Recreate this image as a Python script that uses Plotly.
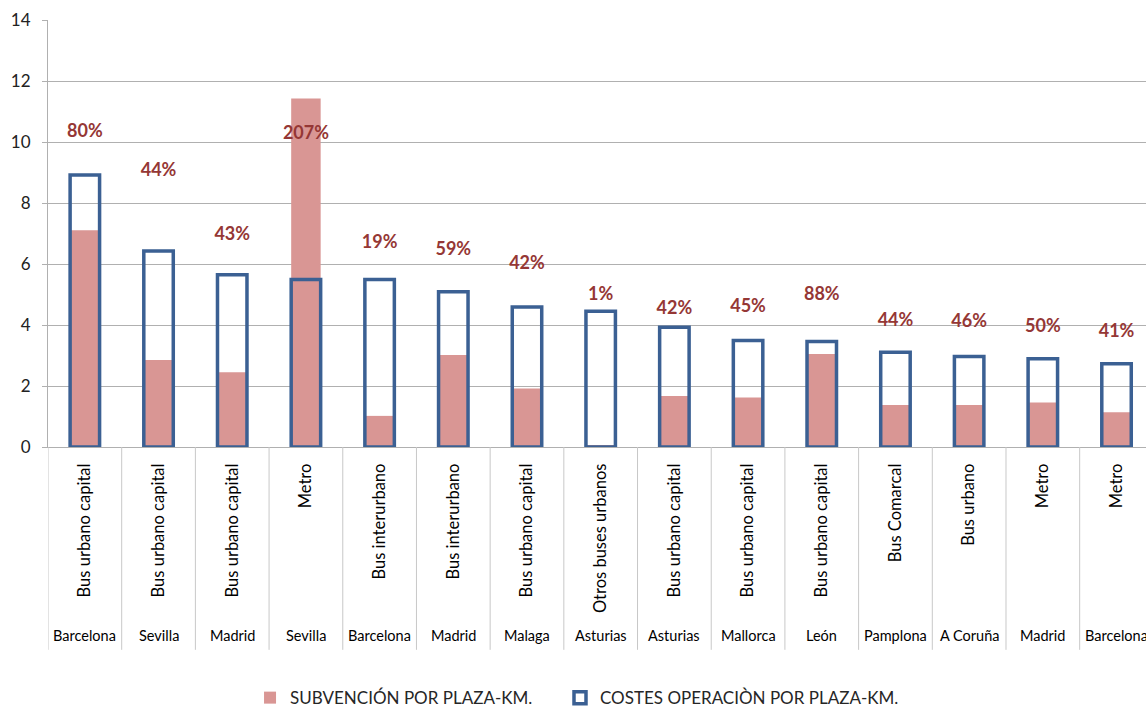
import plotly.graph_objects as go

types = ["Bus urbano capital", "Bus urbano capital", "Bus urbano capital", "Metro",
         "Bus interurbano", "Bus interurbano", "Bus urbano capital", "Otros buses urbanos",
         "Bus urbano capital", "Bus urbano capital", "Bus urbano capital", "Bus Comarcal",
         "Bus urbano", "Metro", "Metro"]
cities = ["Barcelona", "Sevilla", "Madrid", "Sevilla", "Barcelona", "Madrid", "Malaga",
          "Asturias", "Asturias", "Mallorca", "León", "Pamplona", "A Coruña", "Madrid", "Barcelona"]
subvencion = [7.11, 2.85, 2.45, 11.43, 1.02, 3.02, 1.92, 0.04, 1.67, 1.62, 3.05, 1.38, 1.38, 1.46, 1.14]
costes = [8.92, 6.43, 5.65, 5.49, 5.49, 5.09, 4.59, 4.45, 3.93, 3.49, 3.46, 3.11, 2.97, 2.89, 2.73]
pct_text = ["80%", "44%", "43%", "207%", "19%", "59%", "42%", "1%", "42%", "45%", "88%", "44%", "46%", "50%", "41%"]
pct_level = [10.30, 9.02, 6.92, 10.26, 6.66, 6.43, 6.00, 4.98, 4.52, 4.59, 4.98, 4.13, 4.07, 3.93, 3.74]
y_ticks = [0, 2, 4, 6, 8, 10, 12, 14]

FONT = "Lato"
idx = list(range(len(types)))

fig = go.Figure()
fig.add_trace(go.Bar(
    x=idx, y=subvencion, name="SUBVENCIÓN POR PLAZA-KM.", width=0.40,
    marker=dict(color="#D99694", line=dict(width=0)), legend="legend",
))
fig.add_trace(go.Bar(
    x=idx, y=costes, name="COSTES OPERACIÒN POR PLAZA-KM.", width=0.40,
    marker=dict(color="rgba(255,255,255,0)", line=dict(color="#3B6093", width=3.5)),
    legend="legend2",
))
fig.add_trace(go.Scatter(
    x=idx, y=pct_level, mode="text", text=pct_text, showlegend=False,
    textfont=dict(family=FONT, size=18, color="#953735", weight="bold"),
    textposition="middle center", cliponaxis=False, hoverinfo="skip",
))

shapes = []
for i in range(len(types) + 1):
    shapes.append(dict(type="line", xref="x", yref="paper", x0=i - 0.5, x1=i - 0.5,
                       y0=0, y1=-0.475, line=dict(color="#C8C8C8", width=1)))
annotations = []
for i, c in enumerate(cities):
    annotations.append(dict(x=i, y=-0.4426, xref="x", yref="paper", text=c, showarrow=False,
                            font=dict(family=FONT, size=14.5, color="#000000"),
                            xanchor="center", yanchor="middle"))

legend_font = dict(family=FONT, size=17, color="#262626")
fig.update_layout(
    width=1146, height=711,
    margin=dict(l=48, r=0, t=20, b=264, autoexpand=False),
    paper_bgcolor="white", plot_bgcolor="white",
    barmode="overlay",
    shapes=shapes, annotations=annotations,
    font=dict(family=FONT, color="#000000"),
    legend=dict(orientation="h", x=0.184, y=-0.588, xanchor="left", yanchor="middle",
                font=legend_font, borderwidth=0),
    legend2=dict(orientation="h", x=0.4663, y=-0.588, xanchor="left", yanchor="middle",
                 font=legend_font, borderwidth=0),
    xaxis=dict(range=[-0.5, 14.4], tickmode="array", tickvals=idx, ticktext=types,
               tickangle=-90, tickfont=dict(family=FONT, size=16.5, color="#000000"),
               showgrid=False, showline=True, linecolor="#B0B0B0", linewidth=1,
               ticks="", ticklabelstandoff=9, zeroline=False),
    yaxis=dict(range=[0, 14], tickvals=y_ticks, showgrid=True, gridcolor="#B0B0B0", gridwidth=1,
               showline=True, linecolor="#B0B0B0", linewidth=1, ticks="outside", ticklen=5,
               tickcolor="#B0B0B0", tickfont=dict(family=FONT, size=17, color="#222222"),
               ticklabelstandoff=8, zeroline=False),
)

fig.write_html("out.html", config={"displayModeBar": False},
               post_script="document.body.style.margin='0';document.body.style.overflow='hidden';")
